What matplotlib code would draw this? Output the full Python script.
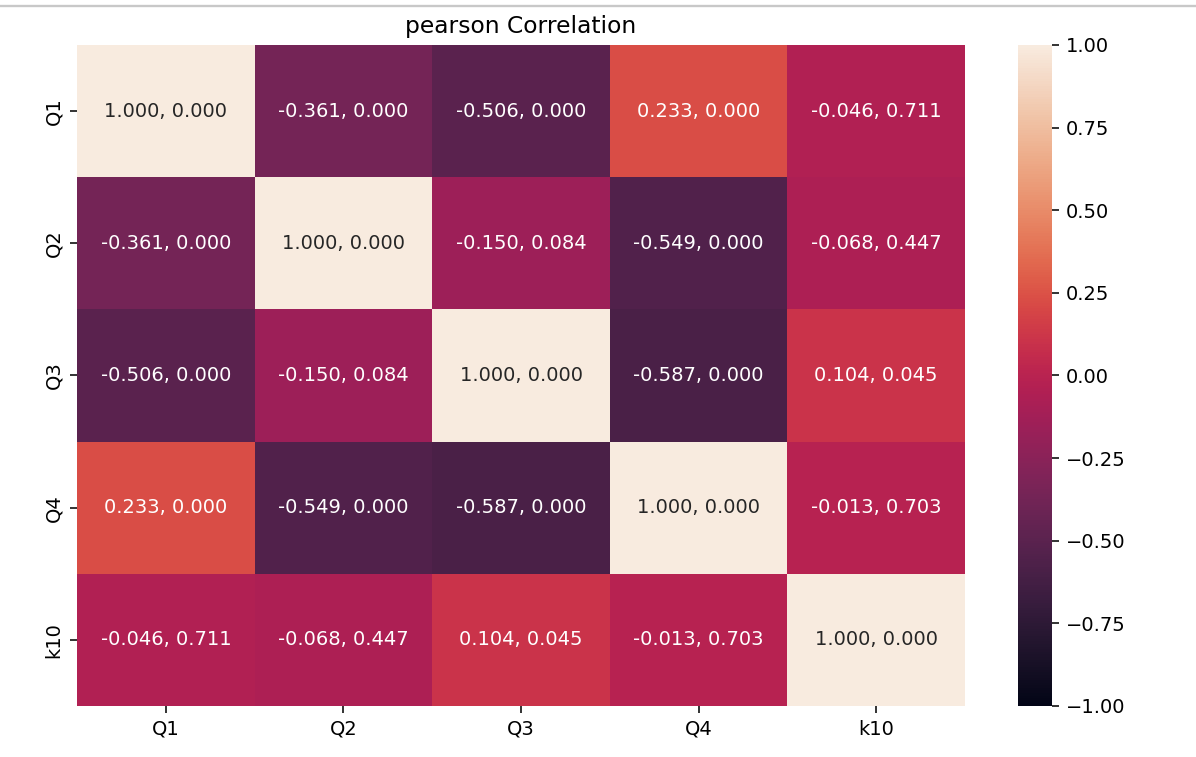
import numpy as np
import pandas as pd
import matplotlib
matplotlib.use('Agg')
import matplotlib.pyplot as plt
import seaborn as sns
from matplotlib.lines import Line2D
from matplotlib.colors import ListedColormap

# variables and the pearson r / p-value matrices
labels = ['Q1', 'Q2', 'Q3', 'Q4', 'k10']
r_vals = [
    [1.000, -0.361, -0.506, 0.233, -0.046],
    [-0.361, 1.000, -0.150, -0.549, -0.068],
    [-0.506, -0.150, 1.000, -0.587, 0.104],
    [0.233, -0.549, -0.587, 1.000, -0.013],
    [-0.046, -0.068, 0.104, -0.013, 1.000],
]
p_vals = [
    [0.000, 0.000, 0.000, 0.000, 0.711],
    [0.000, 0.000, 0.084, 0.000, 0.447],
    [0.000, 0.084, 0.000, 0.000, 0.045],
    [0.000, 0.000, 0.000, 0.000, 0.703],
    [0.711, 0.447, 0.045, 0.703, 0.000],
]

corr = pd.DataFrame(r_vals, index=labels, columns=labels)
annot = np.array([[f"{r:.3f}, {p:.3f}" for r, p in zip(rr, pp)]
                  for rr, pp in zip(r_vals, p_vals)])

# rocket, slightly washed out like the screenshot
rgb = np.array(sns.color_palette('rocket', 256))
luma = rgb @ np.array([0.299, 0.587, 0.114])
rgb = rgb * 0.85 + luma[:, None] * 0.15
cmap = ListedColormap(rgb)

fig = plt.figure(figsize=(1196/140, 757/140), dpi=140)
ax = fig.add_axes([0.0644, 0.0674, 0.7425, 0.8732])
cax = fig.add_axes([0.851, 0.0674, 0.029, 0.8732])

sns.heatmap(corr, annot=annot, fmt='', vmin=-1, vmax=1, cmap=cmap, ax=ax, cbar_ax=cax)
ax.set_title('pearson Correlation')

# faint separator line at the top (notebook cell border)
fig.add_artist(Line2D([0, 1], [1 - 6/757, 1 - 6/757], color='#c8c8c8', lw=1.2,
                      transform=fig.transFigure))

fig.savefig('out.png', dpi=140)
